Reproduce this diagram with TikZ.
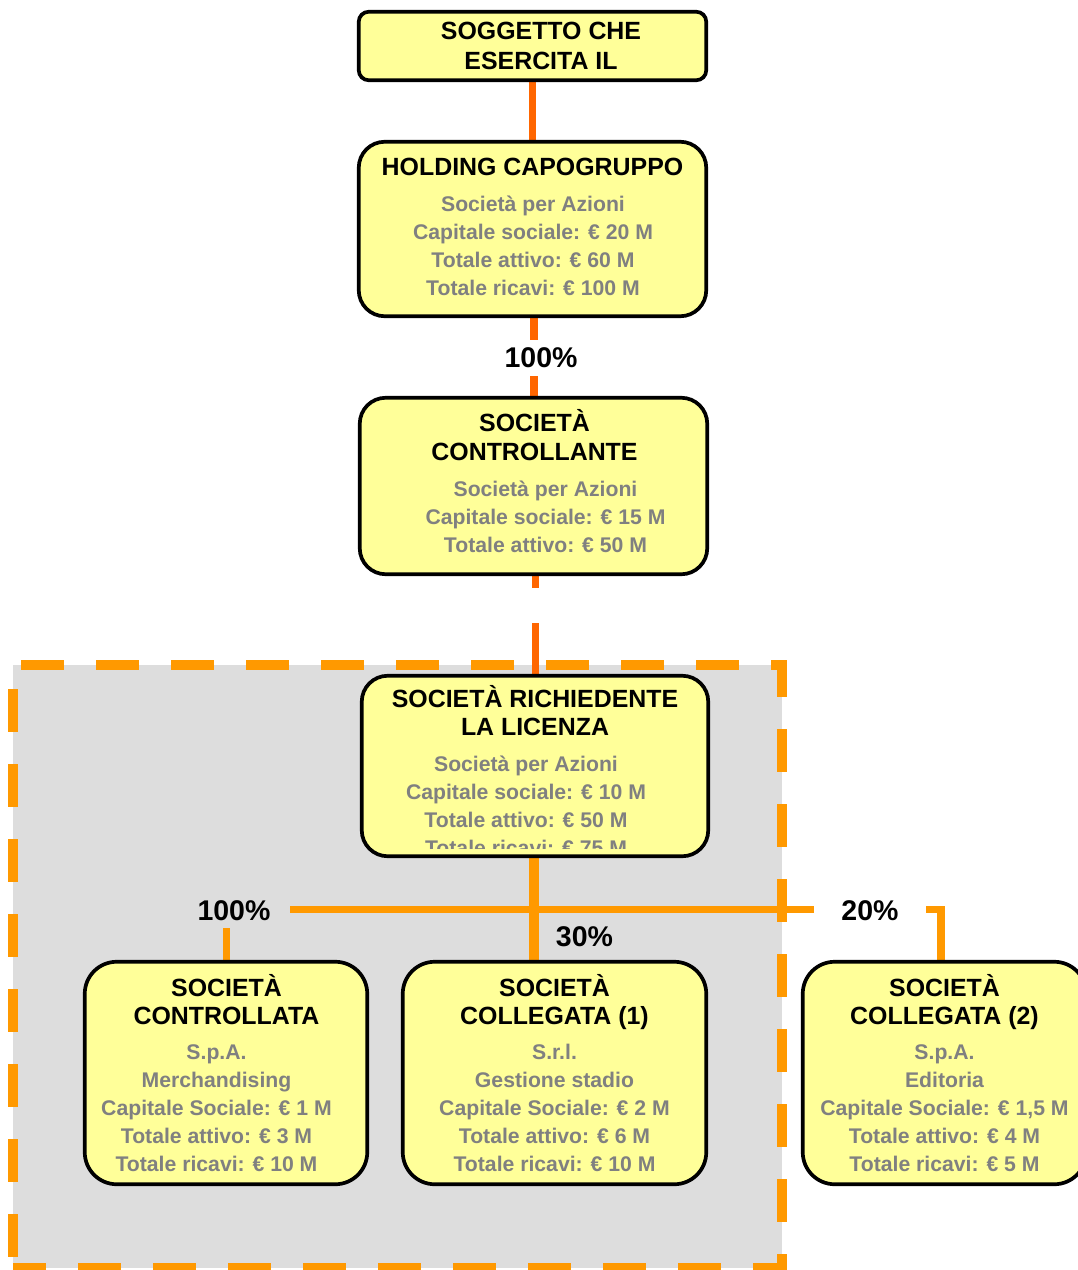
\documentclass[tikz,border=0pt]{standalone}
\usepackage{fontspec}
\setmainfont{Liberation Sans}
\usetikzlibrary{backgrounds}
\definecolor{yfill}{HTML}{FFFF99}
\definecolor{greytext}{HTML}{808080}
\definecolor{orA}{HTML}{FF6600}
\definecolor{orB}{HTML}{FF9900}
\definecolor{bgGrey}{HTML}{DDDDDD}
\newcommand\greylines[4]{%
  \foreach \t [count=\i from 0] in {#4}
    \node[gt] (#1-\i) at (#2, #3+28*\i) {\t};}
\newcommand\titlelines[5]{%
  \foreach \t [count=\i from 0] in {#5}
    \node[tt] (#1-\i) at (#2, #3+#4*\i) {\t};}
\begin{document}
\begin{tikzpicture}[x=1pt,y=-1pt,
  box/.style={draw=black, line width=3.7pt, fill=yfill, rounded corners=#1, inner sep=0pt},
  box/.default=26pt,
  tt/.style={anchor=base, inner sep=0pt, font=\fontsize{24.9}{29}\selectfont\bfseries},
  gt/.style={anchor=base, inner sep=0pt, text=greytext, font=\fontsize{21.2}{25}\selectfont\bfseries},
  pct/.style={inner sep=0pt, font=\fontsize{28.5}{32}\selectfont\bfseries, minimum width=112pt, minimum height=34pt},
  c1/.style={draw=orA, line width=7.5pt},
  c2/.style={draw=orB, line width=8pt},
  border/.style={draw=orB, line width=10pt},
]
\useasboundingbox (0,0) rectangle (1078,1270);
\clip (0,0) rectangle (1078,1270);

% boxes
\node[box=10pt, minimum width=347.5pt, minimum height=68.5pt] (sog) at (532.5,46) {};
\node[box, minimum width=347.5pt, minimum height=174.5pt] (hold) at (532.5,229) {};
\node[box, minimum width=347.5pt, minimum height=176.5pt] (contr) at (533.5,486) {};
\node[box, minimum width=346.5pt, minimum height=180.5pt] (rich) at (535,766) {};
\node[box=32pt, minimum width=282.5pt, minimum height=222.5pt] (ctrl) at (226,1073) {};
\node[box=32pt, minimum width=303.5pt, minimum height=222.5pt] (col1) at (554.5,1073) {};
\node[box=32pt, minimum width=283.5pt, minimum height=222.5pt] (col2) at (944.5,1073) {};

\coordinate (j) at (533.5,909.5);
\coordinate (k) at (941,909.5);
\coordinate (h) at (534,0);
\coordinate (d) at (535.5,0);

\begin{scope}[on background layer]
  \fill[white] (0,0) rectangle (1078,1270);
  \fill[bgGrey] (13,665) rectangle (782,1268);
  % connectors
  \draw[c1] (sog.south) -- (hold.north);
  \draw[c1] (h |- hold.south) -- (h |- contr.north);
  \draw[c1, dash pattern=on 12pt off 35pt on 60pt off 0pt] (d |- contr.south) -- (d |- rich.north);
  \draw[c2, line width=10pt] (j |- rich.south) -- (j |- col1.north);
  \draw[c2, line width=7.5pt] (j) -| ([xshift=0.5pt]ctrl.north);
  \draw[c2, line width=7.5pt] (j) -| (k |- col2.north);
  % dashed frame of the grey area
  \draw[border, dash pattern=on 43pt off 32pt, dash phase=67pt]
    (13,665) -- (782,665) -- (782,1268) -- (13,1268);
  \draw[border, dash pattern=on 43pt off 32pt, dash phase=51pt]
    (13,665) -- (13,1268);
\end{scope}

% percentage labels
\node[pct, minimum width=80pt, minimum height=36pt, fill=white] (p1) at (541,357.5) {100\%};
\node[pct, fill=bgGrey] (p2) at (234,911) {100\%};
\node[pct] (p3) at (584.5,937) {30\%};
\node[pct, fill=white] (p4) at (870,911) {20\%};

% texts
\titlelines{sogT}{541}{39.5}{30}{SOGGETTO CHE, ESERCITA IL}
\titlelines{holdT}{532.5}{175.5}{29}{HOLDING CAPOGRUPPO}
\greylines{holdG}{533}{211.5}{Società per Azioni, Capitale sociale: € 20 M, Totale attivo: € 60 M, Totale ricavi: € 100 M}
\titlelines{contrT}{534.5}{431.5}{29}{SOCIETÀ, CONTROLLANTE}
\greylines{contrG}{545.5}{496.5}{Società per Azioni, Capitale sociale: € 15 M, Totale attivo: € 50 M}
\titlelines{richT}{535}{707.5}{28}{SOCIETÀ RICHIEDENTE, LA LICENZA}
\greylines{richG}{526}{771.5}{Società per Azioni, Capitale sociale: € 10 M, Totale attivo: € 50 M}
\begin{scope}
  \clip (360,828) rectangle (710,848);
  \node[gt] (richG-3) at (526,855.5) {Totale ricavi: € 75 M};
\end{scope}
\titlelines{ctrlT}{226.5}{996.5}{28}{SOCIETÀ, CONTROLLATA}
\greylines{ctrlG}{216.5}{1059.5}{S.p.A., Merchandising, Capitale Sociale: € 1 M, Totale attivo: € 3 M, Totale ricavi: € 10 M}
\titlelines{col1T}{554.5}{996.5}{28}{SOCIETÀ, COLLEGATA (1)}
\greylines{col1G}{554.5}{1059.5}{S.r.l., Gestione stadio, Capitale Sociale: € 2 M, Totale attivo: € 6 M, Totale ricavi: € 10 M}
\titlelines{col2T}{944.5}{996.5}{28}{SOCIETÀ, COLLEGATA (2)}
\greylines{col2G}{944.5}{1059.5}{S.p.A., Editoria, {Capitale Sociale: € 1,5 M}, Totale attivo: € 4 M, Totale ricavi: € 5 M}
\end{tikzpicture}
\end{document}
